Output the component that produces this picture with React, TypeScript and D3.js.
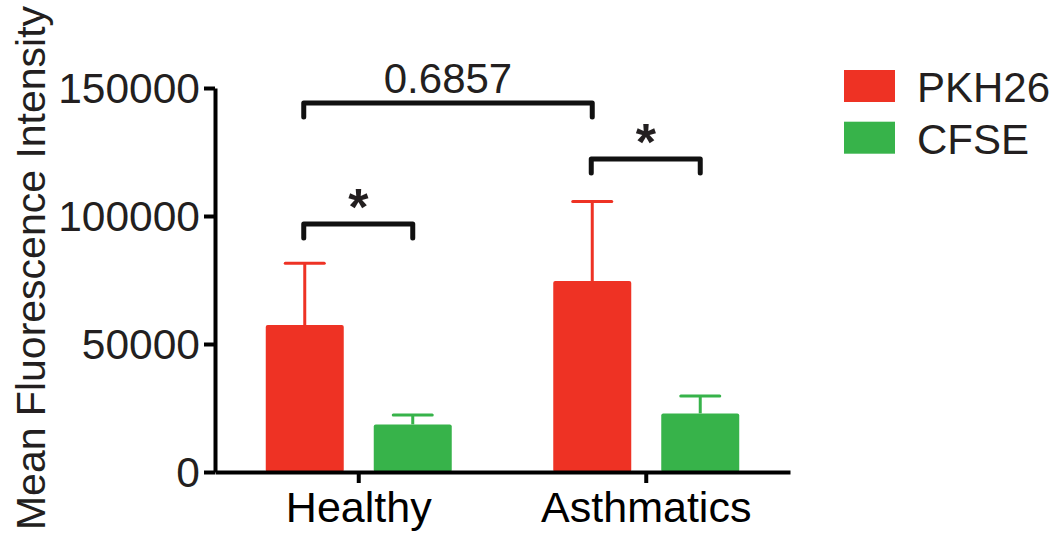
import * as d3 from "d3";
import React, { useRef, useEffect } from "react";

const categories = ["Healthy", "Asthmatics"];
const series = ["PKH26", "CFSE"];
const means = {
    PKH26: [57400, 74600],
    CFSE: [18600, 22900],
};
const sems = {
    PKH26: [24100, 31100],
    CFSE: [3700, 6800],
};
const yTicks = [0, 50000, 100000, 150000];
const colors = ["#ee3224", "#37b34a"];

// comparisons: [category, series] pairs plus the bracket height in data units
const comparisons = [
    { a: ["Healthy", "PKH26"], b: ["Healthy", "CFSE"], at: 96900, label: "*" },
    { a: ["Asthmatics", "PKH26"], b: ["Asthmatics", "CFSE"], at: 122300, label: "*" },
    { a: ["Healthy", "PKH26"], b: ["Asthmatics", "PKH26"], at: 144100, label: "0.6857" },
];

const font = "'Liberation Sans', Arial, sans-serif";
const ink = "#231f20";

function App() {
    const ref = useRef(null);
    const width = 1055;
    const height = 535;
    const margin = { top: 88, left: 215, right: 265, bottom: 63 };

    useEffect(() => {
        const svg = d3.select(ref.current);
        svg.selectAll("*").remove();

        const x0 = d3
            .scaleBand()
            .domain(categories)
            .range([margin.left, width - margin.right])
            .padding(0);
        const x1 = d3
            .scaleBand()
            .domain(series)
            .range([0, x0.bandwidth()])
            .paddingInner(0.2778)
            .paddingOuter(0.47);
        const y = d3
            .scaleLinear()
            .domain([0, 150000])
            .range([height - margin.bottom, margin.top]);

        const cx = (c, s) => x0(c) + x1(s) + x1.bandwidth() / 2;

        // bars + one sided error bars
        series.forEach((s, si) => {
            const g = svg.append("g");
            categories.forEach((c, ci) => {
                const m = means[s][ci];
                const top = m + sems[s][ci];
                g.append("rect")
                    .attr("x", x0(c) + x1(s))
                    .attr("y", y(m))
                    .attr("width", x1.bandwidth())
                    .attr("height", y(0) - y(m))
                    .attr("rx", 2)
                    .attr("fill", colors[si]);
                g.append("line")
                    .attr("x1", cx(c, s))
                    .attr("x2", cx(c, s))
                    .attr("y1", y(m))
                    .attr("y2", y(top))
                    .attr("stroke", colors[si])
                    .attr("stroke-width", 3);
                g.append("line")
                    .attr("x1", cx(c, s) - x1.bandwidth() / 4)
                    .attr("x2", cx(c, s) + x1.bandwidth() / 4)
                    .attr("y1", y(top))
                    .attr("y2", y(top))
                    .attr("stroke", colors[si])
                    .attr("stroke-width", 3)
                    .attr("stroke-linecap", "round");
            });
        });

        // y axis
        const yAxis = svg
            .append("g")
            .attr("transform", `translate(${margin.left}, 0)`)
            .call(
                d3
                    .axisLeft(y)
                    .tickValues(yTicks)
                    .tickSize(11)
                    .tickSizeOuter(0)
                    .tickPadding(4)
                    .tickFormat(d3.format("d"))
            );
        yAxis.select(".domain").attr("stroke", "#000").attr("stroke-width", 4);
        yAxis.selectAll(".tick line").attr("stroke", "#000").attr("stroke-width", 4);
        yAxis
            .selectAll(".tick text")
            .attr("fill", ink)
            .attr("font-family", font)
            .attr("font-size", 42.5)
            .attr("dy", "0.34em");

        // x axis
        const xAxis = svg
            .append("g")
            .attr("transform", `translate(0, ${y(0)})`)
            .call(d3.axisBottom(x0).tickSize(11).tickSizeOuter(0).tickPadding(8));
        xAxis.select(".domain").attr("stroke", "#000").attr("stroke-width", 4);
        xAxis.selectAll(".tick line").attr("stroke", "#000").attr("stroke-width", 4);
        xAxis
            .selectAll(".tick text")
            .attr("fill", "#000")
            .attr("font-family", font)
            .attr("font-size", 43);

        // y label
        svg.append("text")
            .attr("transform", `translate(45, ${268}) rotate(-90)`)
            .attr("text-anchor", "middle")
            .attr("font-family", font)
            .attr("font-size", 41)
            .attr("fill", ink)
            .text("Mean Fluorescence Intensity");

        // significance brackets
        const drop = 14;
        comparisons.forEach((cmp) => {
            const xa = cx(cmp.a[0], cmp.a[1]) - 1;
            const xb = cx(cmp.b[0], cmp.b[1]);
            const yy = y(cmp.at);
            svg.append("path")
                .attr("d", `M${xa},${yy + drop}V${yy}H${xb}V${yy + drop}`)
                .attr("fill", "none")
                .attr("stroke", "#111")
                .attr("stroke-width", 5)
                .attr("stroke-linecap", "round")
                .attr("stroke-linejoin", "round");
            const star = cmp.label === "*";
            svg.append("text")
                .attr("x", (xa + xb) / 2)
                .attr("y", star ? yy + 1 : yy - 10)
                .attr("text-anchor", "middle")
                .attr("font-family", font)
                .attr("font-weight", star ? "bold" : "normal")
                .attr("font-size", star ? 52 : 42)
                .attr("fill", ink)
                .text(cmp.label);
        });

        // legend
        const legend = svg.append("g").attr("transform", "translate(844, 70)");
        series.forEach((s, i) => {
            legend
                .append("rect")
                .attr("x", 0)
                .attr("y", i * 51.7)
                .attr("width", 51)
                .attr("height", 32)
                .attr("fill", colors[i]);
            legend
                .append("text")
                .attr("x", 73)
                .attr("y", i * 51.7 + 32)
                .attr("font-family", font)
                .attr("font-size", 42)
                .attr("fill", ink)
                .text(s);
        });
    }, []);

    return (
        <div>
            <style>{`body{margin:0}`}</style>
            <svg ref={ref} width={width} height={height} style={{ display: "block" }}></svg>
        </div>
    );
}

export default App;
